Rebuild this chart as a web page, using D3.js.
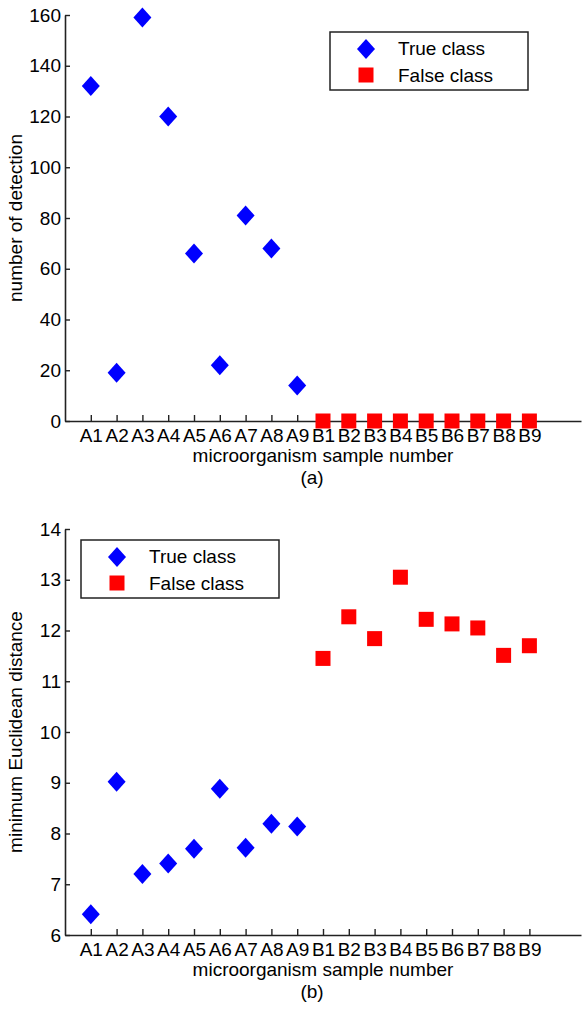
<!DOCTYPE html>
<html>
<head>
<meta charset="utf-8">
<script src="https://cdn.jsdelivr.net/npm/d3@7"></script>
<style>
  body { margin: 0; background: #fff; }
  svg text { font-family: "Liberation Sans", Arial, sans-serif; fill: #000; }
</style>
</head>
<body>
<div id="chart"></div>
<script>
// sample labels along the x axis
var categories = ["A1","A2","A3","A4","A5","A6","A7","A8","A9",
                  "B1","B2","B3","B4","B5","B6","B7","B8","B9"];
var trueSamples = categories.slice(0, 9);
var falseSamples = categories.slice(9);

// (a) number of detection
var detectTrue = [132, 19, 159, 120, 66, 22, 81, 68, 14];
var detectFalse = [0, 0, 0, 0, 0, 0, 0, 0, 0];
var detectTicks = [0, 20, 40, 60, 80, 100, 120, 140, 160];

// (b) minimum Euclidean distance
var distTrue = [6.41, 9.02, 7.20, 7.41, 7.70, 8.88, 7.72, 8.19, 8.14];
var distFalse = [11.45, 12.27, 11.84, 13.05, 12.22, 12.13, 12.05, 11.51, 11.70];
var distTicks = [6, 7, 8, 9, 10, 11, 12, 13, 14];

var legendNames = ["True class", "False class"];

var width = 582;
var height = 1011;
var fontSize = 19;

var svg = d3.select('#chart')
            .append('svg')
                .attr("width", width)
                .attr("height", height);

var xScale = d3.scaleLinear()
                .domain([0, 20])
                .range([65, 581]);

function xPos(name) {
    return xScale(categories.indexOf(name) + 1);
}

function diamond(cx, cy) {
    return "M" + cx + "," + (cy - 10) + "L" + (cx + 9) + "," + cy +
           "L" + cx + "," + (cy + 10) + "L" + (cx - 9) + "," + cy + "Z";
}

function drawPanel(cfg) {
    var g = svg.append("g");

    var yScale = d3.scaleLinear()
                    .domain(cfg.yDomain)
                    .range([cfg.bottom, cfg.top]);

    // x axis
    var xAxis = g.append("g")
        .attr("transform", "translate(0," + cfg.bottom + ")")
        .call(d3.axisBottom(xScale)
                .tickValues(d3.range(1, categories.length + 1))
                .tickFormat(function(d) { return categories[d - 1]; })
                .tickSizeInner(-6)
                .tickSizeOuter(0)
                .tickPadding(8));

    // y axis
    var yAxis = g.append("g")
        .attr("transform", "translate(" + xScale(0) + ",0)")
        .call(d3.axisLeft(yScale)
                .tickValues(cfg.yTicks)
                .tickSizeInner(-5)
                .tickSizeOuter(0)
                .tickPadding(4));

    [xAxis, yAxis].forEach(function(ax) {
        ax.select(".domain").attr("stroke", "#222").attr("stroke-width", 1.6);
        ax.selectAll(".tick line").attr("stroke", "#222").attr("stroke-width", 1.4);
        ax.selectAll("text")
            .attr("font-size", fontSize)
            .attr("font-family", '"Liberation Sans", Arial, sans-serif')
            .attr("fill", "#000");
    });

    // axis titles
    g.append("text")
        .attr("x", (xScale.range()[0] + xScale.range()[1]) / 2)
        .attr("y", cfg.bottom + 41)
        .attr("text-anchor", "middle")
        .attr("font-size", fontSize)
        .text("microorganism sample number");

    g.append("text")
        .attr("transform", "translate(22," + ((cfg.top + cfg.bottom) / 2) + ") rotate(-90)")
        .attr("text-anchor", "middle")
        .attr("font-size", fontSize)
        .text(cfg.yLabel);

    g.append("text")
        .attr("x", 312)
        .attr("y", cfg.bottom + 63)
        .attr("text-anchor", "middle")
        .attr("font-size", fontSize)
        .text(cfg.caption);

    // true class: blue diamonds
    g.selectAll("path.true")
        .data(cfg.trueValues)
        .enter()
        .append("path")
            .attr("class", "true")
            .attr("d", function(d, i) { return diamond(xPos(trueSamples[i]), yScale(d)); })
            .attr("fill", "#0000ff");

    // false class: red squares
    g.selectAll("rect.false")
        .data(cfg.falseValues)
        .enter()
        .append("rect")
            .attr("class", "false")
            .attr("x", function(d, i) { return xPos(falseSamples[i]) - 7.5; })
            .attr("y", function(d) { return yScale(d) - 7.5; })
            .attr("width", 15)
            .attr("height", 15)
            .attr("fill", "#ff0000");

    // legend
    var lg = g.append("g").attr("transform", "translate(" + cfg.legend.x + "," + cfg.legend.y + ")");
    lg.append("rect")
        .attr("width", cfg.legend.w)
        .attr("height", 58)
        .attr("fill", "#fff")
        .attr("stroke", "#222")
        .attr("stroke-width", 1.5);
    lg.append("path")
        .attr("d", diamond(36, 17))
        .attr("fill", "#0000ff");
    lg.append("rect")
        .attr("x", 28.5).attr("y", 35.5)
        .attr("width", 15).attr("height", 15)
        .attr("fill", "#ff0000");
    lg.selectAll("text.leg")
        .data(legendNames)
        .enter()
        .append("text")
            .attr("class", "leg")
            .attr("x", 68)
            .attr("y", function(d, i) { return 23 + i * 26.5; })
            .attr("font-size", fontSize)
            .text(function(d) { return d; });
}

drawPanel({
    top: 15, bottom: 421,
    yDomain: [0, 160], yTicks: detectTicks,
    yLabel: "number of detection", caption: "(a)",
    trueValues: detectTrue, falseValues: detectFalse,
    legend: { x: 330, y: 32, w: 198 }
});

drawPanel({
    top: 529, bottom: 935,
    yDomain: [6, 14], yTicks: distTicks,
    yLabel: "minimum Euclidean distance", caption: "(b)",
    trueValues: distTrue, falseValues: distFalse,
    legend: { x: 81, y: 540, w: 198 }
});
</script>
</body>
</html>
